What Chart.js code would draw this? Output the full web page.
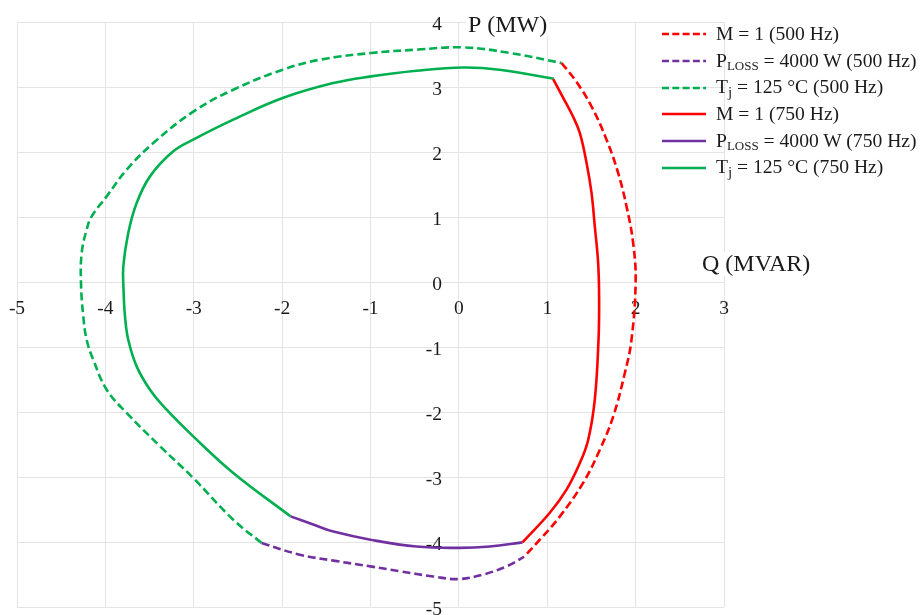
<!DOCTYPE html>
<html>
<head>
<meta charset="utf-8">
<script src="https://cdn.jsdelivr.net/npm/chart.js@4.4.1/dist/chart.umd.min.js"></script>
<style>
html,body{margin:0;padding:0;background:#fff;}
#wrap{position:relative;width:921px;height:615px;overflow:hidden;background:#fff;}
#c{position:absolute;left:0;top:0;}
#legend{position:absolute;left:662px;top:0;width:259px;height:200px;font-family:"Liberation Serif","Times New Roman",serif;font-size:19.6px;color:#1a1a1a;}
.row{position:absolute;left:0;height:26px;display:flex;align-items:center;white-space:nowrap;}
.row svg{flex:none;margin-right:10px;}
.row span{line-height:22px;}
.row sub{font-size:13px;line-height:1;vertical-align:-3px;}
.row sub.j{font-size:15px;vertical-align:-4px;}
</style>
</head>
<body>
<div id="wrap">
<canvas id="c" width="921" height="615"></canvas>
<div id="legend"></div>
</div>
<script>
// ---- data (Q in MVAR, P in MW) ----
const seriesNames = [
  'M = 1 (500 Hz)',
  'P<sub>LOSS</sub> = 4000 W (500 Hz)',
  'T<sub class="j">j</sub> = 125 °C (500 Hz)',
  'M = 1 (750 Hz)',
  'P<sub>LOSS</sub> = 4000 W (750 Hz)',
  'T<sub class="j">j</sub> = 125 °C (750 Hz)'
];
const seriesColors = ['#FF0000', '#7030A0', '#00B050', '#FF0000', '#7030A0', '#00B050'];
const seriesDashed = [true, true, true, false, false, false];

const m500Q = [1.162, 1.33, 1.501, 1.671, 1.802, 1.897, 1.972, 2.0, 1.953, 1.878, 1.746, 1.595, 1.406, 1.143, 0.916, 0.735];
const m500P = [3.37, 3.08, 2.70, 2.19, 1.677, 1.163, 0.6, 0.0, -0.89, -1.40, -2.07, -2.58, -3.09, -3.606, -3.965, -4.23];

const pl500Q = [-2.232, -1.8, -1.4, -1.0, -0.667, -0.29, 0.0, 0.275, 0.54, 0.735];
const pl500P = [-4.015, -4.195, -4.29, -4.375, -4.45, -4.53, -4.57, -4.50, -4.375, -4.23];

const tj500Q = [-2.232, -2.553, -3.006, -3.38, -3.759, -3.985, -4.137, -4.212, -4.25, -4.276, -4.268, -4.212, -4.155, -3.985, -3.759, -3.458, -3.001, -2.553, -1.994, -1.572, -0.995, -0.479, 0.05, 0.577, 1.162];
const tj500P = [-4.015, -3.657, -3.015, -2.529, -2.015, -1.657, -1.195, -0.888, -0.529, -0.015, 0.446, 0.805, 1.009, 1.317, 1.728, 2.138, 2.625, 2.958, 3.266, 3.42, 3.523, 3.574, 3.61, 3.523, 3.369];

const m750Q = [1.067, 1.17, 1.29, 1.369, 1.445, 1.501, 1.538, 1.576, 1.587, 1.58, 1.538, 1.463, 1.369, 1.218, 1.029, 0.72];
const m750P = [3.12, 2.86, 2.55, 2.29, 1.83, 1.37, 0.855, 0.29, -0.27, -0.89, -1.81, -2.43, -2.785, -3.195, -3.55, -4.006];

const pl750Q = [-1.904, -1.61, -1.42, -1.0, -0.48, 0.0, 0.35, 0.72];
const pl750P = [-3.606, -3.75, -3.84, -3.965, -4.07, -4.09, -4.07, -4.006];

const tj750Q = [-1.904, -2.553, -3.006, -3.307, -3.495, -3.646, -3.741, -3.778, -3.795, -3.797, -3.741, -3.646, -3.495, -3.232, -3.006, -2.553, -1.994, -1.422, -0.995, -0.479, 0.05, 0.46, 1.075];
const tj750P = [-3.606, -2.938, -2.375, -1.965, -1.657, -1.298, -0.888, -0.529, -0.1, 0.24, 0.754, 1.215, 1.625, 2.01, 2.19, 2.497, 2.83, 3.06, 3.163, 3.25, 3.30, 3.266, 3.128];

const xTickValues = [-5, -4, -3, -2, -1, 0, 1, 2, 3];
const yTickValues = [-5, -4, -3, -2, -1, 0, 1, 2, 3, 4];
const xTitle = 'Q (MVAR)';
const yTitle = 'P (MW)';

// ---- build ----
const seriesQ = [m500Q, pl500Q, tj500Q, m750Q, pl750Q, tj750Q];
const seriesP = [m500P, pl500P, tj500P, m750P, pl750P, tj750P];
const plainNames = seriesNames.map(n => n.replace(/<[^>]+>/g, ''));

const datasets = seriesQ.map((qs, i) => ({
  label: plainNames[i],
  data: qs.map((q, k) => ({x: q, y: seriesP[i][k]})),
  showLine: true,
  borderColor: seriesColors[i],
  backgroundColor: seriesColors[i],
  borderWidth: 2.6,
  borderDash: seriesDashed[i] ? [8, 4] : [],
  pointRadius: 0,
  tension: 0.4,
  fill: false
}));

const FONT = '"Liberation Serif", "Times New Roman", serif';
const TXT = '#1a1a1a';
const GRID = '#e4e4e4';

const titlePlugin = {
  id: 'axisTitles',
  afterDraw(chart) {
    const {ctx, scales: {x, y}} = chart;
    ctx.save();
    ctx.font = '24px ' + FONT;
    ctx.textBaseline = 'alphabetic';
    ctx.textAlign = 'left';
    // y title near top of vertical axis
    let px = x.getPixelForValue(0) + 9, py = y.top + 9.5;
    let w = ctx.measureText(yTitle).width;
    ctx.fillStyle = '#fff';
    ctx.fillRect(px - 2, py - 19, w + 4, 24);
    ctx.fillStyle = TXT;
    ctx.fillText(yTitle, px, py);
    // x title near right of horizontal axis
    px = x.right - 22; py = y.getPixelForValue(0) - 11;
    w = ctx.measureText(xTitle).width;
    ctx.fillStyle = '#fff';
    ctx.fillRect(px - 2, py - 19, w + 4, 24);
    ctx.fillStyle = TXT;
    ctx.fillText(xTitle, px, py);
    ctx.restore();
  }
};

new Chart(document.getElementById('c'), {
  type: 'scatter',
  data: {datasets},
  options: {
    responsive: false,
    animation: false,
    devicePixelRatio: 1,
    layout: {padding: {left: 17, right: 197, top: 22, bottom: 8}},
    plugins: {legend: {display: false}, tooltip: {enabled: false}},
    scales: {
      x: {
        type: 'linear', min: -5, max: 3,
        position: {y: 0},
        afterBuildTicks(s) { s.ticks = xTickValues.map(v => ({value: v})); },
        afterFit(s) { s.height = 0; s.paddingLeft = 0; s.paddingRight = 0; s.paddingTop = 0; s.paddingBottom = 0; },
        grid: {color: GRID, lineWidth: 1, drawTicks: false},
        border: {display: false},
        ticks: {font: {family: FONT, size: 19.5}, color: TXT, padding: 15, maxRotation: 0, autoSkip: false}
      },
      y: {
        type: 'linear', min: -5, max: 4,
        // labels sit just left of the Q = 0 line (axis border hidden, grid unaffected)
        position: {x: -0.19},
        afterBuildTicks(s) { s.ticks = yTickValues.map(v => ({value: v})); },
        afterFit(s) { s.width = 0; s.paddingLeft = 0; s.paddingRight = 0; s.paddingTop = 0; s.paddingBottom = 0; },
        grid: {color: GRID, lineWidth: 1, drawTicks: false},
        border: {display: false},
        ticks: {font: {family: FONT, size: 19.5}, color: TXT, padding: 0, labelOffset: 3, autoSkip: false}
      }
    }
  },
  plugins: [titlePlugin]
});

// ---- HTML legend (real text with subscripts) ----
const legendEl = document.getElementById('legend');
const legendTop = 34, legendStep = 26.8;
seriesNames.forEach((name, i) => {
  const row = document.createElement('div');
  row.className = 'row';
  row.style.top = (legendTop + i * legendStep - 13) + 'px';
  const dash = seriesDashed[i] ? ' stroke-dasharray="7 3.3"' : '';
  row.innerHTML = '<svg width="44" height="26"><line x1="0" y1="13" x2="44" y2="13" stroke="' + seriesColors[i] + '" stroke-width="2.7"' + dash + '/></svg><span>' + name + '</span>';
  legendEl.appendChild(row);
});
</script>
</body>
</html>
